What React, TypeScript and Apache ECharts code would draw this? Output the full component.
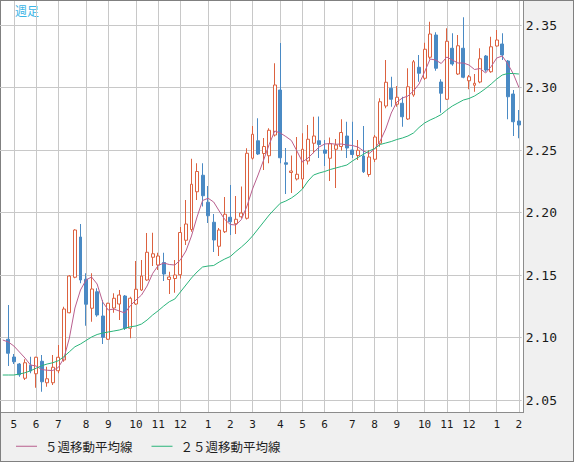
import React, { useEffect, useRef } from "react";
import * as echarts from "echarts";

// month of each weekly bar (first entry is a leading week that only carries averages)
const weekMonth = [
  4, 4, 5, 5, 5, 5, 6, 6, 6, 6, 7, 7, 7, 7, 7, 8, 8, 8, 8, 9, 9, 9, 9, 9,
  10, 10, 10, 10, 11, 11, 11, 11, 12, 12, 12, 12, 12, 1, 1, 1, 1, 2, 2, 2, 2,
  3, 3, 3, 3, 3, 4, 4, 4, 4, 5, 5, 5, 5, 6, 6, 6, 6, 6, 7, 7, 7, 7, 8, 8, 8, 8,
  9, 9, 9, 9, 9, 10, 10, 10, 10, 11, 11, 11, 11, 12, 12, 12, 12, 12, 1, 1, 1, 1, 2,
];

// weekly bars: [open, close, low, high] (starting at the second week)
const weeklyOHLC = [
  [2.0986, 2.0874, 2.0772, 2.126],
  [2.0844, 2.0806, 2.0788, 2.0868],
  [2.0788, 2.0702, 2.0686, 2.0796],
  [2.0674, 2.0798, 2.066, 2.0826],
  [2.0778, 2.0732, 2.0714, 2.0846],
  [2.071, 2.0842, 2.0598, 2.0846],
  [2.081, 2.0646, 2.0566, 2.086],
  [2.0638, 2.067, 2.0606, 2.0766],
  [2.0638, 2.0762, 2.062, 2.086],
  [2.0734, 2.0842, 2.0714, 2.094],
  [2.082, 2.1228, 2.0806, 2.1246],
  [2.1198, 2.1492, 2.1194, 2.15],
  [2.1482, 2.186, 2.1474, 2.1866],
  [2.1804, 2.146, 2.1434, 2.1908],
  [2.1466, 2.1266, 2.1094, 2.1514],
  [2.1234, 2.1388, 2.1126, 2.1514],
  [2.1366, 2.118, 2.1166, 2.1394],
  [2.1172, 2.1002, 2.0948, 2.13],
  [2.0986, 2.1274, 2.098, 2.1278],
  [2.1236, 2.1314, 2.1198, 2.1354],
  [2.1268, 2.134, 2.114, 2.138],
  [2.1332, 2.1074, 2.106, 2.134],
  [2.1074, 2.1314, 2.0994, 2.1326],
  [2.1268, 2.1386, 2.126, 2.1612],
  [2.138, 2.1492, 2.1372, 2.162],
  [2.146, 2.1682, 2.1454, 2.1836],
  [2.1642, 2.167, 2.1572, 2.1838],
  [2.158, 2.1652, 2.154, 2.1678],
  [2.16, 2.1508, 2.1452, 2.1678],
  [2.1464, 2.1484, 2.1348, 2.1526],
  [2.1472, 2.15, 2.1358, 2.162],
  [2.1502, 2.184, 2.1472, 2.1884],
  [2.1778, 2.1908, 2.174, 2.21],
  [2.1864, 2.2226, 2.1846, 2.243],
  [2.2166, 2.2328, 2.21, 2.2394],
  [2.2298, 2.2134, 2.2048, 2.2394],
  [2.2082, 2.1974, 2.1916, 2.2212],
  [2.1922, 2.178, 2.1684, 2.1988],
  [2.173, 2.186, 2.1652, 2.1876],
  [2.1846, 2.1986, 2.1836, 2.2124],
  [2.1962, 2.1926, 2.182, 2.222],
  [2.191, 2.1946, 2.1828, 2.2132],
  [2.1966, 2.1996, 2.1952, 2.2208],
  [2.1954, 2.2474, 2.1944, 2.2514],
  [2.2434, 2.2626, 2.2424, 2.2692],
  [2.2574, 2.2468, 2.246, 2.2754],
  [2.2472, 2.2528, 2.234, 2.2596],
  [2.2454, 2.2658, 2.2394, 2.2674],
  [2.262, 2.302, 2.2608, 2.3194],
  [2.298, 2.2438, 2.2394, 2.3356],
  [2.2398, 2.2386, 2.2148, 2.2516],
  [2.232, 2.2332, 2.2156, 2.2456],
  [2.2268, 2.2306, 2.2256, 2.2604],
  [2.2268, 2.2506, 2.2188, 2.2634],
  [2.2412, 2.2586, 2.2384, 2.27],
  [2.2554, 2.2612, 2.2474, 2.2766],
  [2.2574, 2.2544, 2.2436, 2.2768],
  [2.25, 2.2474, 2.2372, 2.258],
  [2.2434, 2.255, 2.2252, 2.26],
  [2.2506, 2.254, 2.2196, 2.2588],
  [2.2528, 2.264, 2.2496, 2.2746],
  [2.2612, 2.2516, 2.2436, 2.2726],
  [2.25, 2.2464, 2.2436, 2.2726],
  [2.2456, 2.2498, 2.242, 2.258],
  [2.2452, 2.2326, 2.2316, 2.2692],
  [2.2304, 2.2444, 2.2286, 2.25],
  [2.2426, 2.2604, 2.2404, 2.262],
  [2.2554, 2.2886, 2.2526, 2.2914],
  [2.2852, 2.3042, 2.2834, 2.322],
  [2.2994, 2.2906, 2.2846, 2.3086],
  [2.2866, 2.2922, 2.2846, 2.3012],
  [2.2874, 2.2766, 2.2686, 2.2926],
  [2.2748, 2.3006, 2.274, 2.3154],
  [2.294, 2.3206, 2.2926, 2.322],
  [2.3162, 2.3114, 2.3046, 2.326],
  [2.3074, 2.3306, 2.306, 2.3358],
  [2.3242, 2.3428, 2.3226, 2.3526],
  [2.342, 2.3154, 2.3134, 2.3442],
  [2.3044, 2.2954, 2.2798, 2.3066],
  [2.2906, 2.337, 2.29, 2.3474],
  [2.3314, 2.3188, 2.3174, 2.3434],
  [2.3108, 2.3334, 2.31, 2.342],
  [2.3314, 2.3082, 2.3074, 2.3562],
  [2.3054, 2.3086, 2.2986, 2.31],
  [2.3018, 2.3034, 2.2966, 2.3108],
  [2.3044, 2.323, 2.3034, 2.3314],
  [2.3252, 2.314, 2.3126, 2.326],
  [2.3126, 2.3326, 2.3118, 2.3406],
  [2.3332, 2.338, 2.3326, 2.346],
  [2.3348, 2.326, 2.322, 2.3434],
  [2.3212, 2.2926, 2.2746, 2.322],
  [2.2948, 2.2726, 2.2612, 2.298],
  [2.2732, 2.27, 2.2594, 2.282],
];

const ma5 = [
  2.098, 2.0964, 2.0932, 2.0884, 2.0836, 2.078, 2.0772, 2.0744, 2.0738, 2.0736,
  2.076, 2.0832, 2.0996, 2.1236, 2.138, 2.146, 2.1484, 2.1428, 2.1284, 2.122,
  2.1228, 2.1212, 2.1196, 2.1256, 2.13, 2.134, 2.1412, 2.1512, 2.1576, 2.1596,
  2.1584, 2.158, 2.162, 2.1692, 2.1812, 2.1964, 2.2096, 2.2114, 2.2084, 2.2012,
  2.1944, 2.1904, 2.19, 2.1944, 2.2052, 2.2188, 2.23, 2.242, 2.2544, 2.2652,
  2.2636, 2.2608, 2.2576, 2.2492, 2.2404, 2.2436, 2.248, 2.2524, 2.2548, 2.2552,
  2.2546, 2.2548, 2.254, 2.2536, 2.2524, 2.2492, 2.2472, 2.2508, 2.2572, 2.2668,
  2.2796, 2.2884, 2.2916, 2.2932, 2.2972, 2.3028, 2.3124, 2.3228, 2.322, 2.3192,
  2.3244, 2.322, 2.3196, 2.3196, 2.318, 2.3144, 2.3152, 2.3116, 2.3168, 2.3236,
  2.3252, 2.3188, 2.3108, 2.3,
];

const ma25 = [
  2.07, 2.07, 2.07, 2.0708, 2.0718, 2.0734, 2.0754, 2.0774, 2.0788, 2.0798,
  2.0814, 2.0846, 2.0886, 2.0926, 2.0948, 2.0976, 2.1004, 2.1024, 2.1036, 2.1044,
  2.1052, 2.106, 2.1074, 2.1086, 2.1092, 2.1108, 2.114, 2.118, 2.1214, 2.1252,
  2.1286, 2.1308, 2.1364, 2.142, 2.1476, 2.1524, 2.1564, 2.1572, 2.1576, 2.1604,
  2.1628, 2.1648, 2.1688, 2.1724, 2.1764, 2.1812, 2.1868, 2.1924, 2.198, 2.2028,
  2.2074, 2.2092, 2.2116, 2.2148, 2.2188, 2.2252, 2.23, 2.2316, 2.2328, 2.2344,
  2.2356, 2.2368, 2.238, 2.2412, 2.244, 2.2466, 2.2492, 2.2512, 2.2544, 2.2556,
  2.2568, 2.2584, 2.2596, 2.2612, 2.2636, 2.268, 2.2716, 2.274, 2.276, 2.2784,
  2.282, 2.2852, 2.2876, 2.29, 2.2912, 2.2932, 2.296, 2.2992, 2.3028, 2.3068,
  2.31, 2.3112, 2.3112, 2.3108,
];

const yTicks = [2.05, 2.1, 2.15, 2.2, 2.25, 2.3, 2.35];
const yMin = 2.0404;
const yMax = 2.3692;

const legendNames = ["５週移動平均線", "２５週移動平均線"];
const chartTitle = "週足";

const UP = "#dc6240";
const DOWN = "#4a8ac4";
const MA5C = "#b95f8e";
const MA25C = "#2ab47a";
const GRID = "#c8c8c8";

export default function App() {
  const ref = useRef<HTMLDivElement>(null);

  useEffect(() => {
    if (!ref.current) return;
    const chart = echarts.init(ref.current, null, { renderer: "svg" });
    const categories = weekMonth.map((_m, i) => "w" + i);
    const isMonthStart = (i: number) => i > 0 && weekMonth[i] !== weekMonth[i - 1];
    const monthStarts = weekMonth.map((_m, i) => i).filter(isMonthStart);
    const candleData = [["-", "-", "-", "-"], ...weeklyOHLC];

    chart.setOption({
      animation: false,
      graphic: [
        {
          type: "text",
          left: 15,
          top: 4,
          style: {
            text: chartTitle,
            fill: "#3ab4e6",
            font: '12px "Noto Sans CJK JP"',
          },
        },
      ],
      grid: { left: -0.6, top: 1, width: 522.3, height: 411 },
      legend: {
        data: legendNames,
        left: 16,
        top: 440,
        padding: 0,
        icon: "rect",
        itemWidth: 21,
        itemHeight: 1,
        itemGap: 19,
        selectedMode: false,
        textStyle: {
          fontFamily: "Noto Sans CJK JP",
          fontSize: 12.5,
          color: "#1e1e1e",
          padding: [0, 0, 0, 3],
        },
      },
      xAxis: {
        type: "category",
        data: categories,
        boundaryGap: true,
        axisLine: { show: false },
        axisTick: { show: false },
        splitLine: { show: false },
        axisLabel: {
          interval: (i: number) => isMonthStart(i),
          formatter: (_v: string, i: number) => String(weekMonth[i]),
          margin: 7,
          fontFamily: "DejaVu Sans Mono",
          fontSize: 11,
          color: "#1a1a1a",
        },
      },
      yAxis: {
        type: "value",
        position: "right",
        min: yMin,
        max: yMax,
        axisLine: { show: false },
        axisTick: { show: false, customValues: yTicks },
        axisLabel: {
          customValues: yTicks,
          showMinLabel: true,
          showMaxLabel: true,
          formatter: (v: number) => v.toFixed(2),
          margin: 4,
          fontFamily: "DejaVu Sans Mono",
          fontSize: 13,
          color: "#1a1a1a",
        },
        splitLine: {
          show: true,
          showMinLine: true,
          showMaxLine: true,
          lineStyle: { color: GRID, width: 1 },
        },
      },
      series: [
        {
          type: "candlestick",
          data: candleData,
          barWidth: 3.4,
          silent: true,
          itemStyle: {
            color: "#ffffff",
            color0: DOWN,
            borderColor: UP,
            borderColor0: DOWN,
            borderWidth: 1,
          },
          markLine: {
            silent: true,
            z: 1,
            symbol: ["none", "none"],
            label: { show: false },
            emphasis: { disabled: true },
            lineStyle: { color: GRID, width: 1, type: "solid" },
            data: monthStarts.map((i) => ({ xAxis: i })),
          },
        },
        {
          name: legendNames[0],
          type: "line",
          data: ma5,
          symbol: "none",
          silent: true,
          itemStyle: { color: MA5C },
          lineStyle: { color: MA5C, width: 1 },
        },
        {
          name: legendNames[1],
          type: "line",
          data: ma25,
          symbol: "none",
          silent: true,
          itemStyle: { color: MA25C },
          lineStyle: { color: MA25C, width: 1 },
        },
      ],
    });
    return () => chart.dispose();
  }, []);

  return (
    <div
      style={{
        position: "fixed",
        left: 0,
        top: 0,
        width: 574,
        height: 462,
        boxSizing: "border-box",
        border: "1px solid #808080",
        background: "#f0f0f0",
      }}
    >
      <div
        style={{
          position: "absolute",
          left: 0,
          top: 0,
          width: 522,
          height: 411,
          background: "#ffffff",
          borderRight: "1px solid #8c8c8c",
          borderBottom: "1px solid #8c8c8c",
        }}
      />
      <div
        ref={ref}
        style={{ position: "absolute", left: -1, top: -1, width: 574, height: 462 }}
      />
    </div>
  );
}
